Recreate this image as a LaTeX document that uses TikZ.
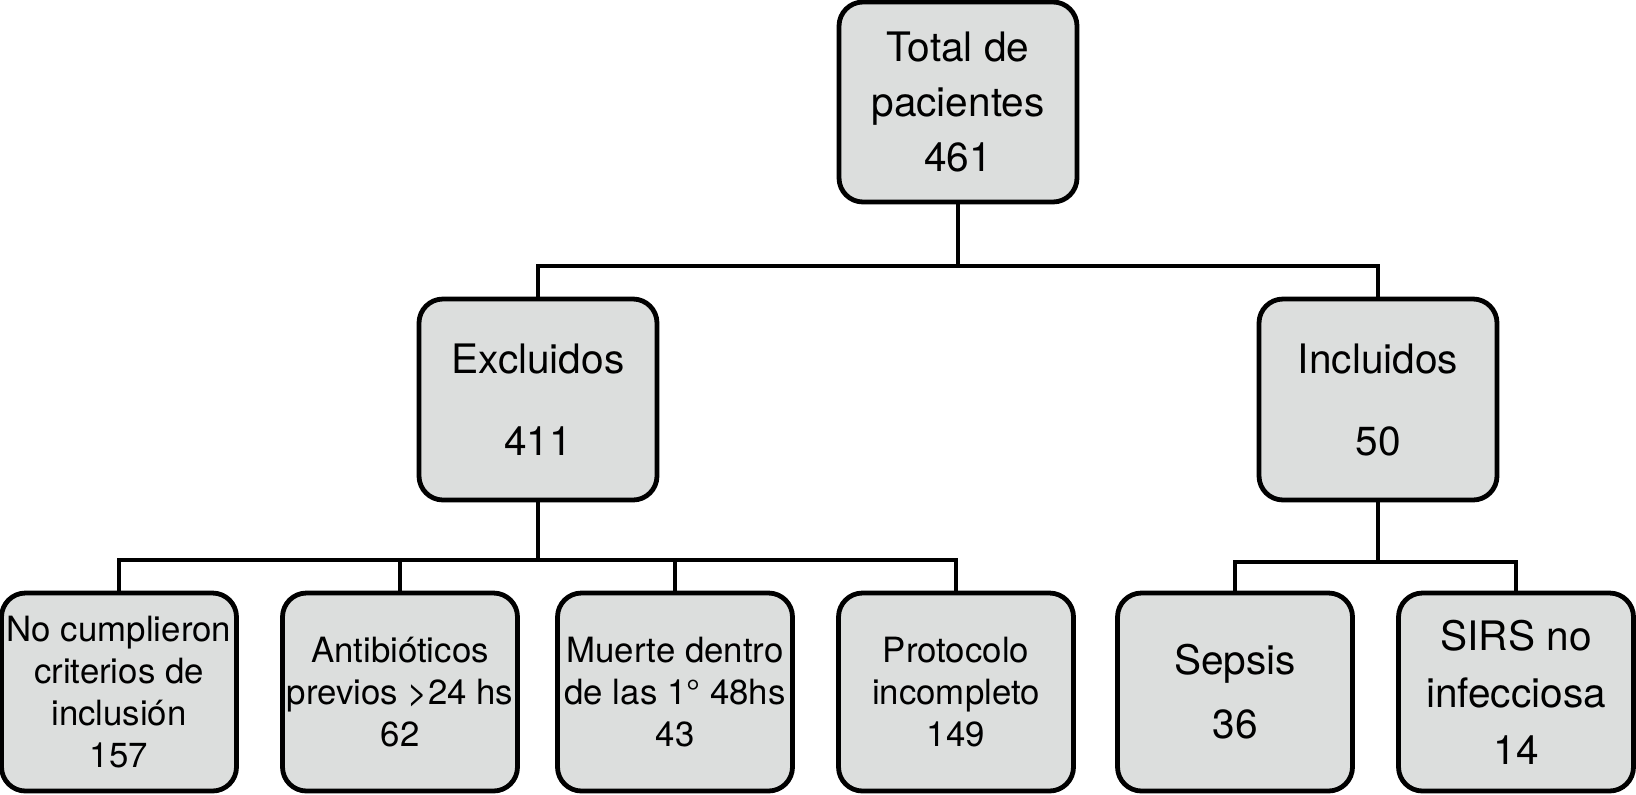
\documentclass[tikz,border=0pt]{standalone}
\usepackage{fontspec}
\setmainfont{TeX Gyre Heros}
\definecolor{boxgray}{RGB}{220,222,221}
\begin{document}
\begin{tikzpicture}[x=0.5pt,y=-0.5pt,
  box/.style={draw=black, line width=2.4pt, fill=boxgray, rounded corners=12pt,
    minimum width=119pt, minimum height=100pt, inner sep=0pt, align=center},
  topfont/.style={font=\fontsize{20.3}{27.5}\selectfont},
  midfont/.style={font=\fontsize{20.3}{41}\selectfont},
  lowfont/.style={font=\fontsize{17.4}{21}\selectfont},
  link/.style={line width=2pt}]
\useasboundingbox (0,0) rectangle (1636,794);
% level 0
\node[box, topfont] (top) at (958,102) {Total de\\pacientes\\461};
% level 1
\node[box, midfont, minimum height=100.5pt] (excl) at (538,399.5) {Excluidos\\411};
\node[box, midfont, minimum height=100.5pt] (incl) at (1378,399.5) {Incluidos\\50};
% level 2
\node[box, lowfont, minimum width=117.5pt, minimum height=99pt] (b1) at (119,692) {No cumplieron\\criterios de\\inclusión\\157};
\node[box, lowfont, minimum width=117.5pt, minimum height=99pt] (b2) at (400,692) {Antibióticos\\previos >24 hs\\62};
\node[box, lowfont, minimum width=117.5pt, minimum height=99pt] (b3) at (675,692) {Muerte dentro\\de las 1° 48hs\\43};
\node[box, lowfont, minimum width=117.5pt, minimum height=99pt] (b4) at (956,692) {Protocolo\\incompleto\\149};
\node[box, font=\fontsize{20.3}{32}\selectfont, minimum width=117.5pt, minimum height=99pt] (b5) at (1235,692) {Sepsis\\36};
\node[box, font=\fontsize{20.3}{28.5}\selectfont, minimum width=117.5pt, minimum height=99pt] (b6) at (1516,692) {SIRS no\\infecciosa\\14};
% junctions
\coordinate (j1) at (958,266);
\coordinate (j2) at (538,560);
\coordinate (j3) at (1378,562);
% connectors
\draw[link] (top.south) -- (j1);
\draw[link] (excl.north) |- (j1) -| (incl.north);
\draw[link] (excl.south) -- (j2);
\draw[link] (b1.north) |- (j2) -| (b4.north);
\draw[link] (b2.north) -- (b2.north |- j2);
\draw[link] (b3.north) -- (b3.north |- j2);
\draw[link] (incl.south) -- (j3);
\draw[link] (b5.north) |- (j3) -| (b6.north);
\end{tikzpicture}
\end{document}
